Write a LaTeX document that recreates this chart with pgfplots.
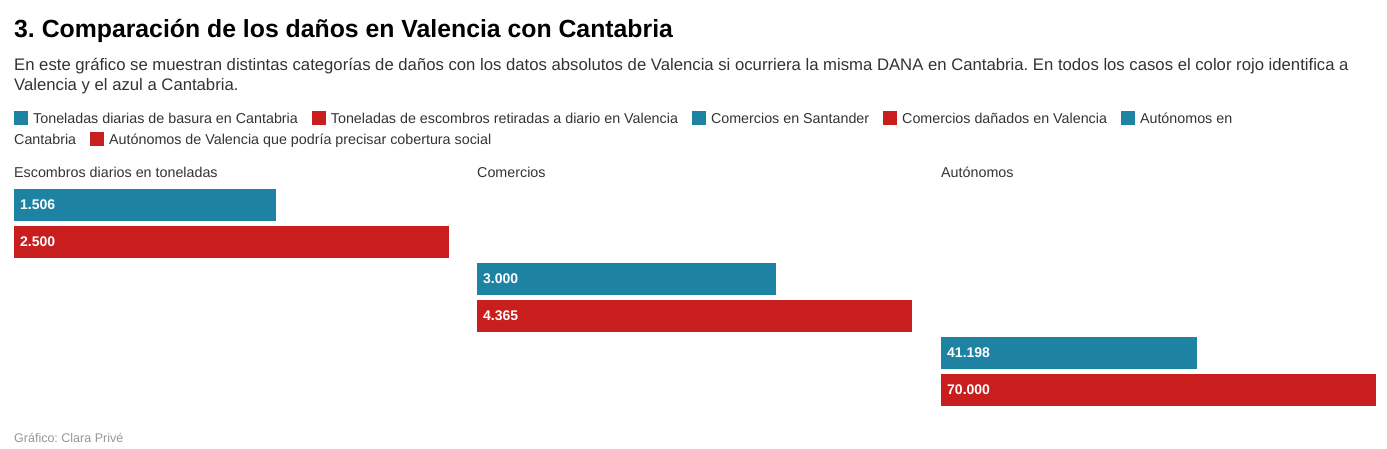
\documentclass[border=0pt]{standalone}
\usepackage{pgfplots}
\pgfplotsset{compat=1.18}
\usepackage{fontspec}
\setmainfont{Liberation Sans}
\frenchspacing
\definecolor{cteal}{RGB}{30,130,163}
\definecolor{cred}{RGB}{200,30,30}
\definecolor{ctext}{RGB}{51,51,51}
\definecolor{cfoot}{RGB}{150,150,150}
\pgfplotsset{
  panel/.style={scale only axis, width=435pt, height=222pt, xmin=0,
    ymin=0.5, ymax=6.5, y dir=reverse, hide axis, clip=false, anchor=north west,
    /pgf/number format/assume math mode=true},
  tbar/.style={xbar, bar width=32pt, bar shift=0pt, draw=none, fill=#1},
  vlab/.style={draw=none, mark=none, point meta=explicit,
    nodes near coords={\pgfmathprintnumber[fixed, precision=0, 1000 sep={.}, assume math mode=true]{\pgfplotspointmeta}},
    every node near coord/.style={anchor=west, inner sep=0pt, xshift=6pt, yshift=-0.5pt, text=white,
      font=\fontsize{14}{16}\selectfont\bfseries}}
}
\newcommand{\lsq}[1]{\textcolor{#1}{\rule[-2pt]{14pt}{14pt}}\hspace{5pt}}
\begin{document}
\begin{tikzpicture}
\path[use as bounding box] (0pt,0pt) rectangle (1387pt,-448pt);
% title
\node[anchor=base west, inner sep=0pt, font=\fontsize{24.8}{30}\selectfont\bfseries, text=black] at (14pt,-37pt) {3. Comparación de los daños en Valencia con Cantabria};
\node[anchor=base west, inner sep=0pt, font=\fontsize{16.7}{20}\selectfont, text=ctext] at (14pt,-70pt) {En este gráfico se muestran distintas categorías de daños con los datos absolutos de Valencia si ocurriera la misma DANA en Cantabria. En todos los casos el color rojo identifica a};
\node[anchor=base west, inner sep=0pt, font=\fontsize{16.7}{20}\selectfont, text=ctext] at (14pt,-90pt) {Valencia y el azul a Cantabria.};
% legend
\node[anchor=base west, inner sep=0pt, font=\fontsize{14.3}{16}\selectfont, text=ctext] at (14pt,-123pt) {\lsq{cteal}Toneladas diarias de basura en Cantabria\hspace{14pt}\lsq{cred}Toneladas de escombros retiradas a diario en Valencia\hspace{14pt}\lsq{cteal}Comercios en Santander\hspace{14pt}\lsq{cred}Comercios dañados en Valencia\hspace{14pt}\lsq{cteal}Autónomos en};
\node[anchor=base west, inner sep=0pt, font=\fontsize{14.3}{16}\selectfont, text=ctext] at (14pt,-144pt) {Cantabria\hspace{14pt}\lsq{cred}Autónomos de Valencia que podría precisar cobertura social};
% panel titles
\node[anchor=base west, inner sep=0pt, font=\fontsize{14.3}{16}\selectfont, text=ctext] at (14pt,-177pt) {Escombros diarios en toneladas};
\node[anchor=base west, inner sep=0pt, font=\fontsize{14.3}{16}\selectfont, text=ctext] at (477pt,-177pt) {Comercios};
\node[anchor=base west, inner sep=0pt, font=\fontsize{14.3}{16}\selectfont, text=ctext] at (941pt,-177pt) {Autónomos};
% footer
\node[anchor=base west, inner sep=0pt, font=\fontsize{12.5}{14}\selectfont, text=cfoot] at (14pt,-442pt) {Gráfico: Clara Privé};
% panel 1
\begin{axis}[panel, at={(14pt,-186pt)}, xmax=2500]
\addplot[tbar=cteal] coordinates {(1506,1)};
\addplot[tbar=cred] coordinates {(2500,2)};
\addplot[vlab] coordinates {(0,1) [1506] (0,2) [2500]};
\end{axis}
% panel 2
\begin{axis}[panel, at={(477pt,-186pt)}, xmax=4365]
\addplot[tbar=cteal] coordinates {(3000,3)};
\addplot[tbar=cred] coordinates {(4365,4)};
\addplot[vlab] coordinates {(0,3) [3000] (0,4) [4365]};
\end{axis}
% panel 3
\begin{axis}[panel, at={(941pt,-186pt)}, xmax=70000]
\addplot[tbar=cteal] coordinates {(41198,5)};
\addplot[tbar=cred] coordinates {(70000,6)};
\addplot[vlab] coordinates {(0,5) [41198] (0,6) [70000]};
\end{axis}
\end{tikzpicture}
\end{document}
